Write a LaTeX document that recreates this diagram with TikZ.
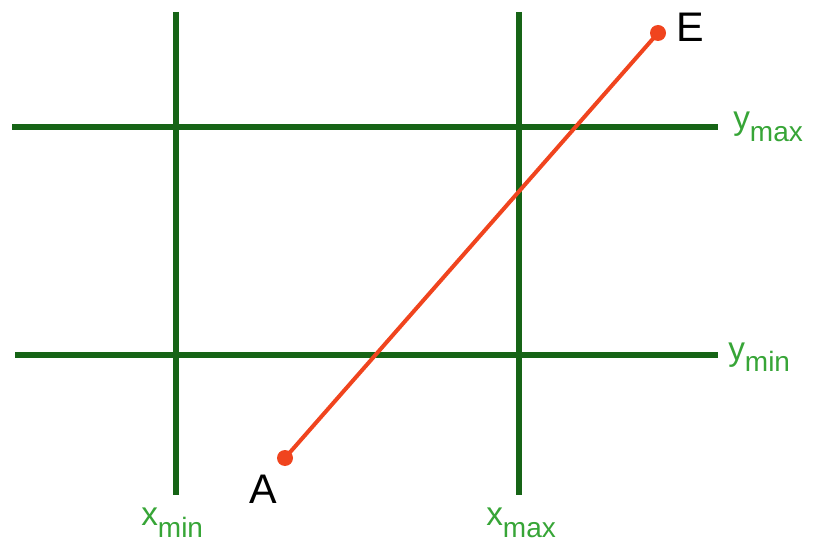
\documentclass[tikz,border=0pt]{standalone}
\usepackage{fontspec}
\setmainfont{Liberation Sans}
\usetikzlibrary{positioning}
\definecolor{gitter}{RGB}{22,100,22}
\definecolor{beschr}{RGB}{55,165,55}
\definecolor{strecke}{RGB}{240,68,30}
\newcommand{\tiefindex}[1]{\raisebox{-9pt}{\fontsize{21}{24}\selectfont #1}}
\tikzset{
  grenze/.style={line width=4.5pt,gitter},
  marke/.style={beschr,font=\fontsize{25}{28}\selectfont,inner sep=0pt,anchor=base west},
  punkt/.style={font=\fontsize{31}{34}\selectfont,inner sep=0pt}
}

\begin{document}
\begin{tikzpicture}[x=0.75pt,y=-0.75pt]
  \useasboundingbox (0,0) rectangle (814,545); % Bildrahmen
  \coordinate (xmin-o) at (176,12); % obere Enden der senkrechten Grenzen
  \coordinate (xmin-u) at (176,495);
  \coordinate (xmax-o) at (519,12);
  \coordinate (xmax-u) at (519,495);
  \coordinate (ymax-l) at (12,127); % linke Enden der waagrechten Grenzen
  \coordinate (ymax-r) at (718,127);
  \coordinate (ymin-l) at (15,355);
  \coordinate (ymin-r) at (718,355);
  \draw[grenze] (xmin-o) -- (xmin-u); % linke Fenstergrenze
  \draw[grenze] (xmax-o) -- (xmax-u); % rechte Fenstergrenze
  \draw[grenze] (ymax-l) -- (ymax-r); % obere Fenstergrenze
  \draw[grenze] (ymin-l) -- (ymin-r); % untere Fenstergrenze
  \coordinate (A) at (285,458); % Anfangspunkt der Strecke
  \coordinate (E) at (658,33); % Endpunkt der Strecke
  \draw[strecke,line width=3pt] (A) -- (E); % die zu clippende Strecke
  \fill[strecke] (A) circle (8) (E) circle (8); % Endpunkte
  \node[punkt] (lA) at (263,489) {A};
  \node[punkt] (lE) at (690,27) {E};
  \node[marke] (lymax) at (733,130) {y\tiefindex{max}};
  \node[marke] (lymin) at (728,360) {y\tiefindex{min}};
  \node[marke] (lxmin) at (141,525) {x\tiefindex{min}};
  \node[marke] (lxmax) at (486,525) {x\tiefindex{max}};
\end{tikzpicture}
\end{document}
